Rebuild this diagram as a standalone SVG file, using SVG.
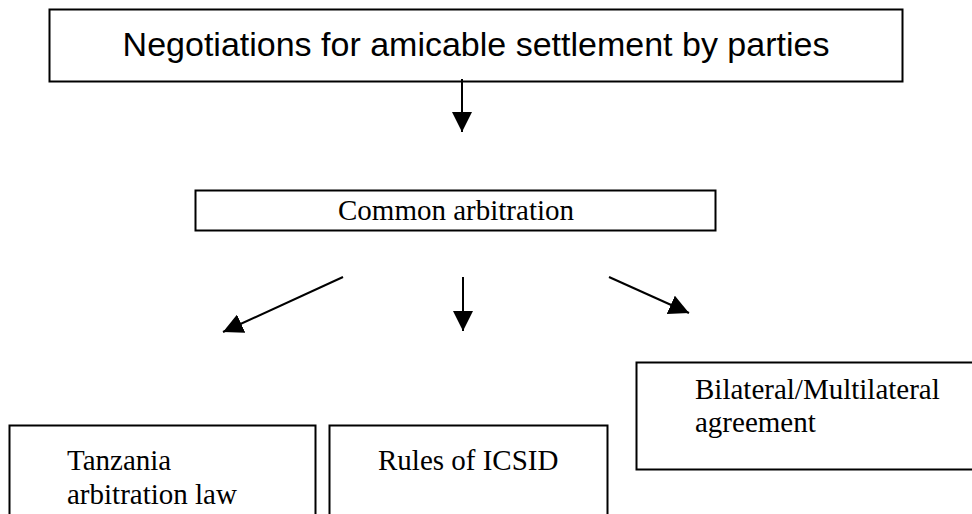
<svg xmlns="http://www.w3.org/2000/svg" width="972" height="514" viewBox="0 0 972 514">
<defs>
<style>
.box{fill:#fff;stroke:#000;stroke-width:2}
.sans{font-family:"Liberation Sans",Arial,sans-serif;font-size:34px;fill:#000}
.serif{font-family:"Liberation Serif","Times New Roman",serif;font-size:29px;fill:#000}
.conn{stroke:#000;stroke-width:2;fill:none}
</style>
<marker id="arr" viewBox="0 0 20 20" refX="20" refY="10" markerWidth="20" markerHeight="20" markerUnits="userSpaceOnUse" orient="auto"><path d="M0,0 L20,10 L0,20 Z" fill="#000"/></marker>
</defs>
<rect width="972" height="514" fill="#fff"/>
<g id="n1"><rect class="box" x="49.5" y="9.5" width="853" height="72"/><text class="sans" x="476" y="56" text-anchor="middle">Negotiations for amicable settlement by parties</text></g>
<g id="n2"><rect class="box" x="195.5" y="190.5" width="520" height="40"/><text class="serif" x="456" y="220" text-anchor="middle">Common arbitration</text></g>
<g id="n3"><path class="box" d="M9.5,514 V425.5 H315.5 V514"/><text class="serif" x="67" y="470">Tanzania</text><text class="serif" x="67" y="504">arbitration law</text></g>
<g id="n4"><path class="box" d="M329.5,514 V425.5 H607.5 V514"/><text class="serif" x="378" y="470">Rules of ICSID</text></g>
<g id="n5"><rect class="box" x="636.5" y="362.5" width="340" height="107"/><text class="serif" x="695" y="399">Bilateral/Multilateral</text><text class="serif" x="695" y="432">agreement</text></g>
<g id="connectors">
<line class="conn" x1="462" y1="79" x2="462" y2="132" marker-end="url(#arr)"/>
<line class="conn" x1="343" y1="277" x2="223" y2="332" marker-end="url(#arr)"/>
<line class="conn" x1="463" y1="277" x2="463" y2="331" marker-end="url(#arr)"/>
<line class="conn" x1="609" y1="277" x2="689" y2="313" marker-end="url(#arr)"/>
</g>
</svg>
